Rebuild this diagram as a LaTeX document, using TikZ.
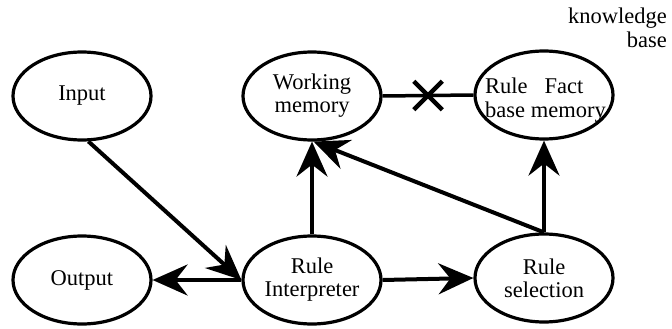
\documentclass[tikz,border=0pt]{standalone}
\usepackage{fontspec}
\setmainfont{Liberation Serif}
\usetikzlibrary{shapes.geometric,shapes.misc,arrows.meta}
\begin{document}
\begin{tikzpicture}[x=1pt,y=-1pt,
  ell/.style={ellipse, draw, line width=3.2pt, minimum width=138pt, minimum height=88pt, inner sep=0pt, align=center, font=\fontsize{22.5}{23}\selectfont},
  conn/.style={line width=4pt, -{Stealth[length=35pt,width=31pt,inset=12pt]}},
  plainline/.style={line width=3.5pt},
  crossmark/.style={cross out, draw, line width=4.5pt, minimum size=24pt, inner sep=0pt},
  lbl/.style={font=\fontsize{22.5}{24}\selectfont, inner sep=0pt}]
\useasboundingbox (0,0) rectangle (672,329);
\node[ell] (in) at (82,96) {Input};
\node[ell] (wm) at (312,96) {Working\\memory};
\node[ell] (fm) at (544,95) {};
\node[ell] (out) at (82,280) {Output};
\node[ell] (ri) at (312,280) {Rule\\Interpreter};
\node[ell] (rs) at (544,278) {Rule\\selection};
\node[lbl, anchor=base west] (fml1) at (485,93) {Rule\hspace{17pt}Fact};
\node[lbl, anchor=base west] (fml2) at (485,117) {base memory};
\node[lbl, anchor=north east, align=right] (kb) at (667,8) {knowledge\\base};
\draw[conn] (in.-82) -- (ri.west);
\draw[conn] (ri.west) -- (out.east);
\draw[conn] (ri.east) -- (rs.west);
\draw[conn] (ri.north) -- (wm.south);
\draw[conn] (rs.north) -- (fm.south);
\draw[conn] (rs.north) -- (wm.-88);
\draw[plainline] (wm.east) -- node[crossmark]{} (fm.west);
\end{tikzpicture}
\end{document}
